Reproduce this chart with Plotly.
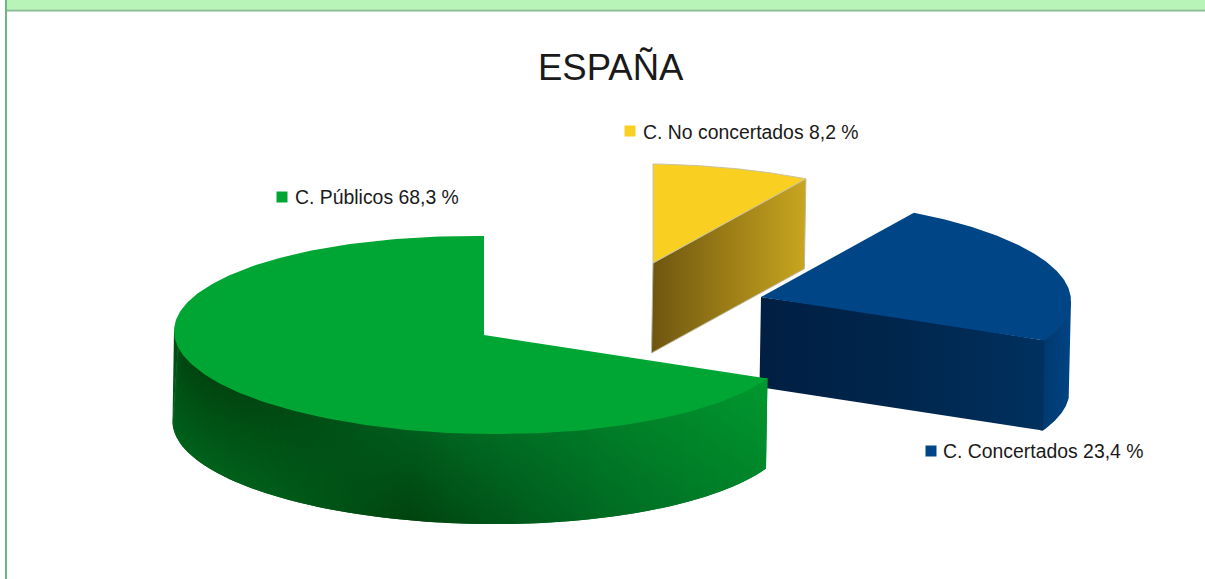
import math
import plotly.graph_objects as go

# ---- data ----
categories = ["C. Públicos", "C. Concertados", "C. No concertados"]
values = [68.3, 23.4, 8.2]
value_labels = ["68,3 %", "23,4 %", "8,2 %"]
title_text = "ESPAÑA"

# ---- styles ----
top_colors = ["#00A633", "#004586", "#F9CF22"]
label_pos = {0: (293, 197), 1: (941, 451), 2: (641, 132)}
marker_pos = {0: (282, 197), 1: (931, 451), 2: (630, 131)}
centers = [(484, 335), (761, 297), (653, 263)]
RX, RY, H, SKEW, SHEAR = 310, 99, 90, 1.5, 0.0125
GREEN_STOPS = [(100, (0, 112, 31)), (200, (0, 92, 25)), (300, (0, 67, 15)), (400, (0, 88, 27)),
               (500, (0, 106, 34)), (650, (0, 127, 40)), (850, (0, 152, 46))]

total = sum(values)
start = 90.0
angles = []  # each slice runs counter-clockwise from 12 o'clock on the ellipse
for v in values:
    end = start + v / total * 360
    angles.append((start, end))
    start = end


def pt(c, deg, scale=1.0):
    a = math.radians(deg)
    dx = RX * scale * math.cos(a)
    return c[0] + dx, c[1] - RY * scale * math.sin(a) + SHEAR * dx


def arc(c, a0, a1, n=120, scale=1.0):
    return [pt(c, a0 + (a1 - a0) * i / n, scale) for i in range(n + 1)]


fig = go.Figure()


def poly(pts, color=None, grad=None, vgrad=None, line=None, lw=0):
    xs = [p[0] for p in pts] + [pts[0][0]]
    ys = [p[1] for p in pts] + [pts[0][1]]
    kw = dict(x=xs, y=ys, mode="lines", fill="toself", hoverinfo="skip",
              showlegend=False, line=dict(width=lw, color=line or color or "rgba(0,0,0,0)"))
    if grad:
        x0, x1, stops = grad
        kw["fillgradient"] = dict(type="horizontal", start=x0, stop=x1, colorscale=stops)
        kw["fillcolor"] = stops[0][1]
    elif vgrad:
        y0, y1, c0, c1 = vgrad
        kw["fillgradient"] = dict(type="vertical", start=y0, stop=y1, colorscale=[[0, c0], [1, c1]])
        kw["fillcolor"] = c0
    else:
        kw["fillcolor"] = color
    fig.add_trace(go.Scatter(**kw))


def down(pts):
    return [(x - SKEW, y + H) for x, y in reversed(pts)]


def green_color(x, y):
    u = x - 1.4 * (y - 440)
    s = GREEN_STOPS
    if u <= s[0][0]:
        r = s[0][1]
    elif u >= s[-1][0]:
        r = s[-1][1]
    else:
        for (u0, c0), (u1, c1) in zip(s, s[1:]):
            if u0 <= u <= u1:
                t = (u - u0) / (u1 - u0)
                r = tuple(c0[k] + (c1[k] - c0[k]) * t for k in range(3))
                break
    return "rgb(%d,%d,%d)" % tuple(round(v) for v in r)


# yellow slice (farthest back): cut face, then top
c = centers[2]
a0, a1 = angles[2]
p_out = pt(c, a0)
cut = [c, p_out]
poly(cut + down(cut), grad=(c[0], p_out[0], [[0, "#6F5610"], [0.5, "#9C7E17"], [1, "#C9A61F"]]),
     line="#BDB69C", lw=1)
poly([c] + arc(c, a0, a1), color=top_colors[2], line="#C9C2A0", lw=1)

# blue slice: rim, cut face, top
c = centers[1]
a0, a1 = angles[1]
p_out = pt(c, a0)
rim = arc(c, a0, 360)
inner = arc(c, a0, 360, scale=0.985)
under = (p_out[0] - 3, p_out[1] - 0.4)
poly([under] + inner + [rim[-1]] + down(rim) + [(under[0] - SKEW, under[1] + H)],
     grad=(p_out[0], c[0] + RX, [[0, "#003A70"], [1, "#004484"]]))
mid = (c[0] * 0.5 + p_out[0] * 0.5, (c[1] + p_out[1]) * 0.5 - 2)
cut = [c, mid, p_out]
poly(cut + down([c, p_out]),
     grad=(c[0], p_out[0], [[0, "#001F42"], [0.5, "#00264D"], [1, "#00315F"]]))
poly([c] + arc(c, a0, a1), color=top_colors[1])

# green slice (front): rim made of narrow columns, top
c = centers[0]
a0, a1 = angles[0]
N = 150
rim = arc(c, 180, a1, N)
inner = arc(c, 180, a1, N, scale=0.985)
bottom = [(x - SKEW, y + H) for x, y in rim]
for i in range(N):
    j = min(i + 2, N)
    tops = [inner[i], inner[j]]
    if i == 0:
        tops = [rim[0]] + tops
    if j == N:
        tops = tops + [rim[N]]
    xm = (rim[i][0] + rim[j][0]) / 2
    y0 = min(p[1] for p in tops)
    y1 = max(bottom[i][1], bottom[j][1])
    poly(tops + [bottom[j], bottom[i]], vgrad=(y0, y1, green_color(xm, y0), green_color(xm, y1)))
poly([c] + arc(c, a0, a1, 240), color=top_colors[0])

# legend-like labels
for i, name in enumerate(categories):
    mx, my = marker_pos[i]
    fig.add_trace(go.Scatter(x=[mx], y=[my], mode="markers", hoverinfo="skip", showlegend=False,
                             marker=dict(symbol="square", size=11, color=top_colors[i], line=dict(width=0))))
    lx, ly = label_pos[i]
    fig.add_annotation(x=lx, y=ly, text=f"{name} {value_labels[i]}", showarrow=False,
                       xanchor="left", yanchor="middle", xshift=0,
                       font=dict(family="Liberation Sans", size=19.4, color="#1a1a1a"))

fig.add_annotation(x=610.5, y=67, text=title_text, showarrow=False, xanchor="center", yanchor="middle",
                   font=dict(family="Liberation Sans", size=36.5, color="#1a1a1a"))

fig.update_layout(
    width=1205, height=579, margin=dict(l=0, r=0, t=0, b=0, pad=0),
    paper_bgcolor="white", plot_bgcolor="white",
    xaxis=dict(range=[0, 1205], visible=False, fixedrange=True),
    yaxis=dict(range=[579, 0], visible=False, fixedrange=True),
    shapes=[
        dict(type="rect", x0=6, x1=1205, y0=0, y1=9.5, fillcolor="#B8F4B8", line_width=0, layer="below"),
        dict(type="rect", x0=6, x1=1205, y0=9.5, y1=11.5, fillcolor="#86BF90", line_width=0, layer="below"),
        dict(type="rect", x0=5, x1=7, y0=0, y1=579, fillcolor="#6AB87F", line_width=0, layer="below"),
    ],
)
fig.write_html("out.html", config={"displayModeBar": False},
               post_script="document.body.style.margin='0';document.body.style.overflow='hidden';")
